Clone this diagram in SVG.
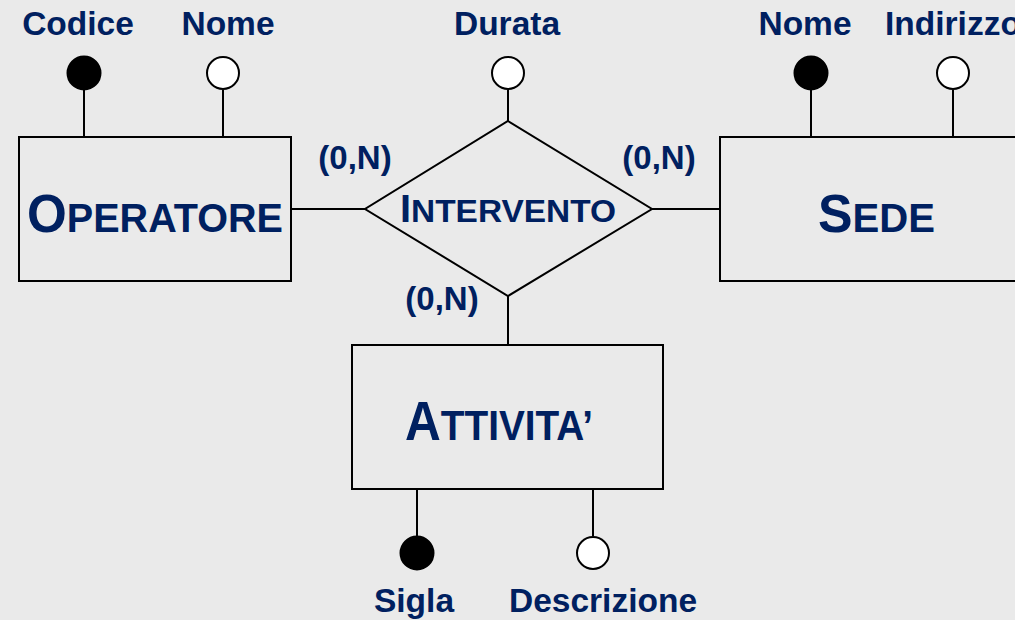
<svg xmlns="http://www.w3.org/2000/svg" width="1015" height="620" viewBox="0 0 1015 620">
<style>
.bg{fill:#eaeaea}
.ent{fill:none;stroke:#000;stroke-width:2}
.ln{stroke:#000;stroke-width:2;fill:none}
.key{fill:#000;stroke:#000;stroke-width:2}
.att{fill:#fff;stroke:#000;stroke-width:2}
text{font-family:"Liberation Sans",Arial,sans-serif;font-weight:bold;fill:#002060}
.lab{font-size:33.5px;text-anchor:middle}
.card{font-size:33px;text-anchor:middle}
</style>
<rect class="bg" x="0" y="0" width="1015" height="620"/>
<g id="connectors">
<line class="ln" x1="291" y1="209" x2="365" y2="209"/>
<line class="ln" x1="652" y1="209" x2="720" y2="209"/>
<line class="ln" x1="508" y1="296" x2="508" y2="345"/>
<line class="ln" x1="508" y1="90" x2="508" y2="121"/>
<line class="ln" x1="84" y1="90" x2="84" y2="137"/>
<line class="ln" x1="223" y1="90" x2="223" y2="137"/>
<line class="ln" x1="811" y1="90" x2="811" y2="137"/>
<line class="ln" x1="953" y1="90" x2="953" y2="137"/>
<line class="ln" x1="417" y1="489" x2="417" y2="536"/>
<line class="ln" x1="593" y1="489" x2="593" y2="536"/>
</g>
<g id="operatore">
<rect class="ent" x="19" y="137" width="272" height="144"/>
<text x="27" y="232" textLength="256" lengthAdjust="spacingAndGlyphs"><tspan font-size="53">O</tspan><tspan font-size="41">PERATORE</tspan></text>
</g>
<g id="sede">
<rect class="ent" x="720" y="137" width="310" height="144"/>
<text x="818" y="232" textLength="117" lengthAdjust="spacingAndGlyphs"><tspan font-size="53">S</tspan><tspan font-size="41">EDE</tspan></text>
</g>
<g id="attivita">
<rect class="ent" x="352" y="345" width="311" height="144"/>
<text x="405" y="440" textLength="188" lengthAdjust="spacingAndGlyphs"><tspan font-size="55">A</tspan><tspan font-size="43">TTIVITA’</tspan></text>
</g>
<g id="intervento">
<polygon class="ent" points="508,121 652,209 508,296 365,209"/>
<text x="400" y="222" textLength="216" lengthAdjust="spacingAndGlyphs"><tspan font-size="38">I</tspan><tspan font-size="32">NTERVENTO</tspan></text>
</g>
<g id="card-operatore"><text class="card" x="355" y="169">(0,N)</text></g>
<g id="card-sede"><text class="card" x="659" y="169">(0,N)</text></g>
<g id="card-attivita"><text class="card" x="442" y="310">(0,N)</text></g>
<g id="attr-codice"><circle class="key" cx="84" cy="73" r="16.5"/><text class="lab" x="78" y="35">Codice</text></g>
<g id="attr-nome-op"><circle class="att" cx="223" cy="73" r="16"/><text class="lab" x="228" y="35">Nome</text></g>
<g id="attr-durata"><circle class="att" cx="508" cy="73" r="16"/><text class="lab" x="507" y="35">Durata</text></g>
<g id="attr-nome-sede"><circle class="key" cx="811" cy="73" r="16.5"/><text class="lab" x="805" y="35">Nome</text></g>
<g id="attr-indirizzo"><circle class="att" cx="953" cy="73" r="16"/><text x="885" y="35" font-size="33.5">Indirizzo</text></g>
<g id="attr-sigla"><circle class="key" cx="417" cy="553" r="16.5"/><text class="lab" x="414" y="612">Sigla</text></g>
<g id="attr-descrizione"><circle class="att" cx="593" cy="553" r="16"/><text class="lab" x="603" y="612">Descrizione</text></g>
</svg>
